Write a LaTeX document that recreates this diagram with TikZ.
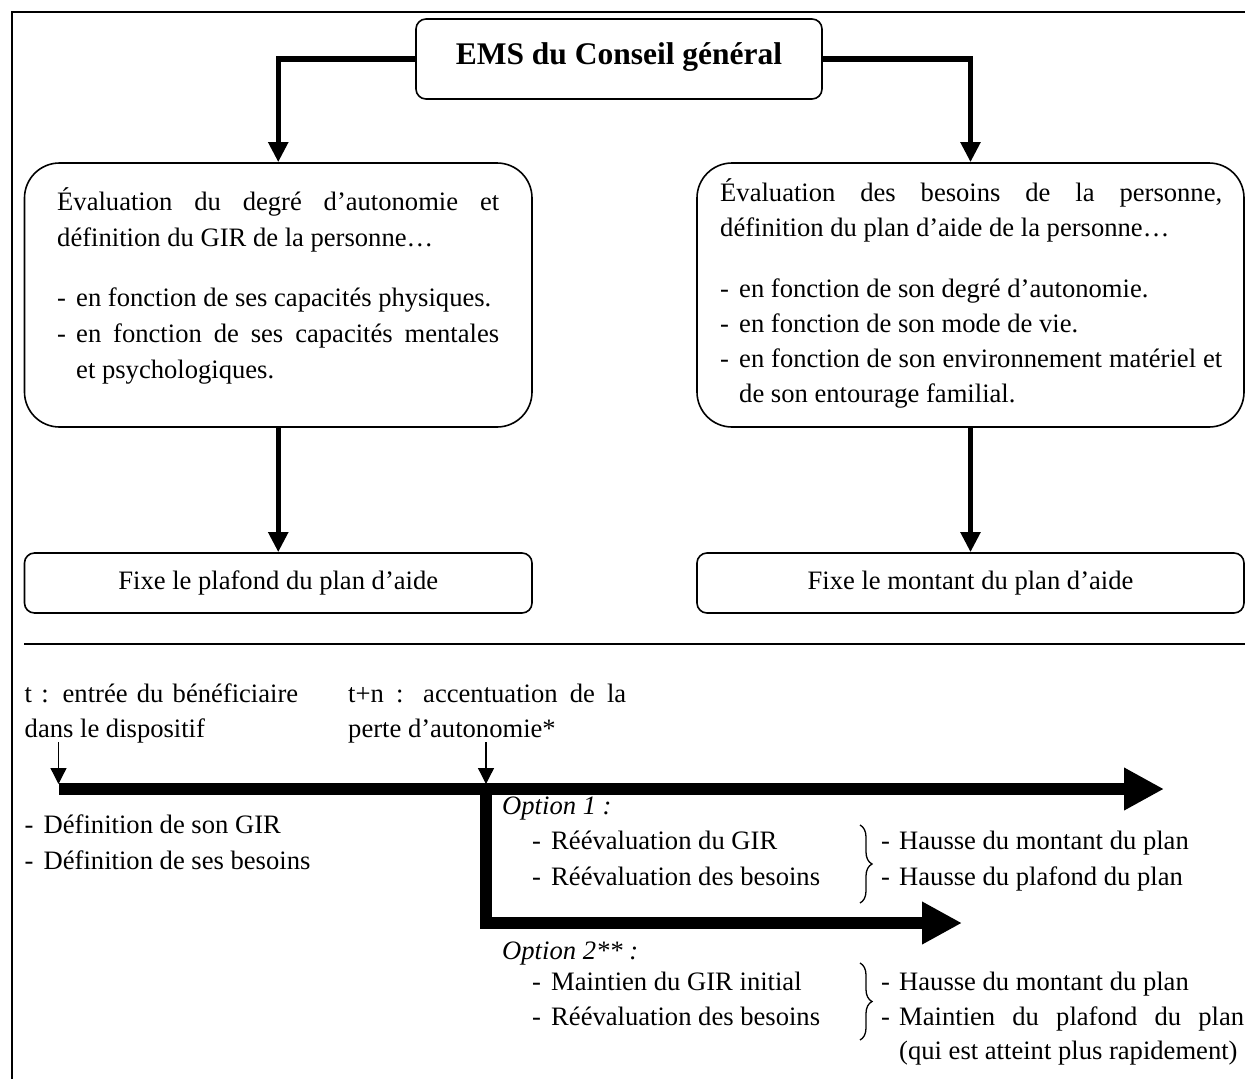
\documentclass[tikz,border=0pt]{standalone}
\usepackage{fontspec}
\setmainfont{Liberation Serif}
\usetikzlibrary{arrows.meta,decorations.pathreplacing}
\begin{document}
\begin{tikzpicture}[x=1pt,y=-1pt,
  txt/.style={anchor=base west,inner sep=0pt,font=\fontsize{26.6}{35}\selectfont},
  ital/.style={txt,font=\fontsize{26.6}{35}\selectfont\itshape},
  rbox/.style={draw,line width=1.6pt,rounded corners=#1,inner sep=0pt,font=\fontsize{26.6}{35}\selectfont},
  rbox/.default=10pt,
  conn/.style={line width=5.5pt,-{Triangle[width=19pt,length=20pt]}},
  bar/.style={line width=12.5pt,line join=miter,-{Triangle[width=40pt,length=40pt]}},
  thinarrow/.style={line width=1.3pt,-{Triangle[width=16pt,length=16pt]}},
  brc/.style={decorate,decoration={brace,amplitude=12pt},line width=1.3pt},
]
\useasboundingbox (0,0) rectangle (1245,1079);

% frame and separator
\draw[line width=2.2pt] (12,1079) -- (12,12) -- (1245,12);
\draw[line width=2pt] (24,644) -- (1245,644);

% ---------- upper part: evaluation chart ----------
\node[rbox, minimum width=406pt, minimum height=80pt] (ems) at (619,59) {};
\node[txt, anchor=base, font=\fontsize{31.5}{35}\selectfont\bfseries] (emsT) at (619,64) {EMS du Conseil général};

\node[rbox=35pt, minimum width=507.5pt, minimum height=264pt] (evalL) at (278.25,295) {};
\node[rbox=35pt, minimum width=547pt, minimum height=264pt] (evalR) at (970.5,295) {};

\node[rbox, minimum width=507.5pt, minimum height=60pt] (fixeL) at (278.25,583) {Fixe le plafond du plan d’aide};
\node[rbox, minimum width=547pt, minimum height=60pt] (fixeR) at (970.5,583) {Fixe le montant du plan d’aide};

\draw[conn] (ems.west) -| (evalL.north);
\draw[conn] (ems.east) -| (evalR.north);
\draw[conn] (evalL.south) -- (fixeL.north);
\draw[conn] (evalR.south) -- (fixeR.north);

% left box text
\node[txt] (lA) at (57,210) {\makebox[442pt][s]{Évaluation du degré d’autonomie et}};
\node[txt] (lB) at (57,246) {définition du GIR de la personne…};
\node[txt] (lCd) at (57,306) {-};
\node[txt] (lC) at (76,306) {en fonction de ses capacités physiques.};
\node[txt] (lDd) at (57,342) {-};
\node[txt] (lD) at (76,342) {\makebox[423pt][s]{en fonction de ses capacités mentales}};
\node[txt] (lE) at (76,378) {et psychologiques.};

% right box text
\node[txt] (rA) at (720,201) {\makebox[502pt][s]{Évaluation des besoins de la personne,}};
\node[txt] (rB) at (720,236) {définition du plan d’aide de la personne…};
\node[txt] (rCd) at (720,297) {-};
\node[txt] (rC) at (739,297) {en fonction de son degré d’autonomie.};
\node[txt] (rDd) at (720,332) {-};
\node[txt] (rD) at (739,332) {en fonction de son mode de vie.};
\node[txt] (rEd) at (720,367) {-};
\node[txt] (rE) at (739,367) {\makebox[483pt][s]{en fonction de son environnement matériel et}};
\node[txt] (rF) at (739,402) {de son entourage familial.};

% ---------- lower part: timeline ----------
\node[txt] (tA) at (24.5,702) {\makebox[273.5pt][s]{t : entrée du bénéficiaire}};
\node[txt] (tB) at (24.5,737) {dans le dispositif};
\node[txt] (nA) at (348,702) {\makebox[278pt][s]{t+n : accentuation de la}};
\node[txt] (nB) at (348,737) {perte d’autonomie*};

\coordinate (t0) at (58.5,789);
\coordinate (tEnd) at (1164,789);
\coordinate (tn) at (486,789);
\coordinate (b2) at (486,923);
\coordinate (b2End) at (962,923);
\coordinate (a1s) at (58.5,742);
\coordinate (a1e) at (58.5,784);
\coordinate (a2s) at (486,742);
\coordinate (a2e) at (486,784);

\draw[bar] (t0) -- (tEnd);
\draw[bar] (tn) -- (b2) -- (b2End);
\draw[thinarrow] (a1s) -- (a1e);
\draw[thinarrow] (a2s) -- (a2e);

\node[txt] (dAd) at (24.5,833) {-};
\node[txt] (dA) at (43.5,833) {Définition de son GIR};
\node[txt] (dBd) at (24.5,869) {-};
\node[txt] (dB) at (43.5,869) {Définition de ses besoins};

% option 1
\node[ital] (o1) at (502,814) {Option 1 :};
\node[txt] (o1Ad) at (532,849) {-};
\node[txt] (o1A) at (551,849) {Réévaluation du GIR};
\node[txt] (o1Bd) at (532,885) {-};
\node[txt] (o1B) at (551,885) {Réévaluation des besoins};
\draw[brc] (860,825) -- (860,903);
\node[txt] (h1Ad) at (881,849) {-};
\node[txt] (h1A) at (899,849) {Hausse du montant du plan};
\node[txt] (h1Bd) at (881,885) {-};
\node[txt] (h1B) at (899,885) {Hausse du plafond du plan};

% option 2
\node[ital] (o2) at (502,959) {Option 2** :};
\node[txt] (o2Ad) at (532,990) {-};
\node[txt] (o2A) at (551,990) {Maintien du GIR initial};
\node[txt] (o2Bd) at (532,1025) {-};
\node[txt] (o2B) at (551,1025) {Réévaluation des besoins};
\draw[brc] (860,963) -- (860,1040);
\node[txt] (h2Ad) at (881,990) {-};
\node[txt] (h2A) at (899,990) {Hausse du montant du plan};
\node[txt] (h2Bd) at (881,1025) {-};
\node[txt] (h2B) at (899,1025) {\makebox[345pt][s]{Maintien du plafond du plan}};
\node[txt] (h2C) at (899,1059) {(qui est atteint plus rapidement)};
\end{tikzpicture}
\end{document}
